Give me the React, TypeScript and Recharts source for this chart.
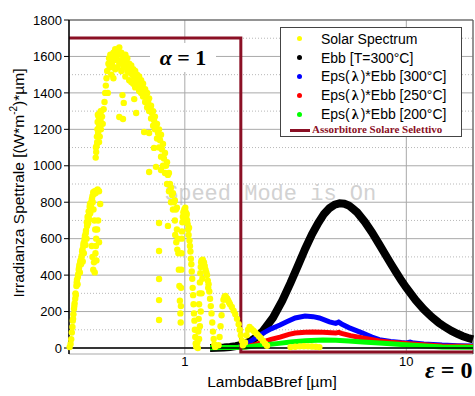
import React from "react";
import {
  ComposedChart, Scatter, Line, XAxis, YAxis, CartesianGrid, ReferenceLine
} from "recharts";

type Pt = [number, number];

// Solar spectrum (lambda in um, irradiance W/m2/um)
const solarUV: Pt[] = [
  [0.302, 5], [0.305, 22], [0.307, 48], [0.309, 85], [0.311, 115], [0.312, 150], [0.314, 185],
  [0.316, 215], [0.318, 245], [0.32, 270], [0.322, 290], [0.324, 340], [0.326, 375], [0.328, 350],
  [0.33, 405], [0.332, 430], [0.334, 455], [0.336, 415], [0.338, 480], [0.34, 460], [0.342, 505],
  [0.344, 530], [0.346, 475], [0.348, 560], [0.35, 520], [0.352, 585], [0.354, 615], [0.356, 565],
  [0.358, 645], [0.36, 600], [0.362, 670], [0.364, 720], [0.366, 685], [0.368, 750], [0.37, 705],
  [0.372, 775], [0.374, 740], [0.376, 795], [0.378, 760], [0.38, 810], [0.383, 835], [0.386, 855],
  [0.389, 845], [0.392, 860], [0.396, 850], [0.4, 865], [0.404, 870], [0.41, 860], [0.415, 790],
  [0.38, 560], [0.383, 500], [0.386, 430], [0.389, 470], [0.392, 415], [0.395, 520], [0.398, 600],
  [0.402, 650], [0.406, 700], [0.41, 580],
  [0.313, 160], [0.317, 230], [0.321, 300], [0.325, 360], [0.329, 390], [0.333, 440], [0.337, 470],
  [0.341, 490], [0.345, 540], [0.349, 575], [0.353, 600], [0.357, 630], [0.361, 690], [0.365, 710],
  [0.369, 730], [0.373, 790], [0.377, 780], [0.381, 820], [0.384, 800], [0.387, 760], [0.391, 700],
  [0.394, 650], [0.397, 560], [0.399, 480],
];

const solarBlue: Pt[] = [
  [0.396, 1045], [0.398, 1075], [0.4, 1110], [0.401, 1160], [0.403, 1200], [0.404, 1240],
  [0.406, 1180], [0.408, 1270], [0.41, 1130], [0.412, 1220], [0.414, 1290], [0.416, 1250],
  [0.418, 1200], [0.42, 1300], [0.423, 1270], [0.426, 1230], [0.43, 1310], [0.434, 1350],
  [0.437, 1400], [0.44, 1440], [0.443, 1480], [0.446, 1520], [0.449, 1400], [0.452, 1560],
  [0.455, 1590], [0.458, 1540], [0.461, 1610], [0.464, 1575],
  [0.397, 1100], [0.402, 1130], [0.405, 1280], [0.409, 1210], [0.413, 1160], [0.417, 1300],
  [0.421, 1230],
];

const solarVisible: Pt[] = [
  [0.466, 1500], [0.466, 1600], [0.471, 1550], [0.476, 1620], [0.476, 1480], [0.48, 1580],
  [0.485, 1640], [0.485, 1530], [0.49, 1600], [0.495, 1630], [0.495, 1540], [0.5, 1580],
  [0.506, 1650], [0.506, 1560], [0.511, 1610], [0.517, 1520], [0.517, 1620], [0.522, 1580],
  [0.528, 1600], [0.528, 1540], [0.533, 1560], [0.539, 1490], [0.539, 1610], [0.544, 1570],
  [0.55, 1520], [0.55, 1590], [0.555, 1545], [0.561, 1470], [0.561, 1560], [0.567, 1510],
  [0.573, 1460], [0.573, 1550], [0.579, 1500], [0.585, 1450], [0.585, 1530], [0.591, 1490],
  [0.597, 1430], [0.597, 1520], [0.603, 1470], [0.609, 1440], [0.609, 1500], [0.616, 1460],
  [0.622, 1410], [0.622, 1490], [0.628, 1450], [0.635, 1400], [0.635, 1470], [0.641, 1430],
  [0.648, 1380], [0.648, 1450], [0.655, 1410], [0.662, 1350], [0.662, 1420], [0.669, 1380],
  [0.676, 1320], [0.676, 1400], [0.683, 1350], [0.69, 1300], [0.69, 1370], [0.697, 1320],
  [0.704, 1260], [0.704, 1330], [0.711, 1290], [0.719, 1220], [0.719, 1300], [0.726, 1250],
  [0.733, 1200], [0.733, 1270], [0.741, 1210], [0.749, 1150], [0.749, 1230], [0.757, 1180],
  [0.765, 1100], [0.765, 1200], [0.773, 1140], [0.781, 1050], [0.781, 1170], [0.789, 1090],
  [0.797, 1000], [0.797, 1120], [0.805, 1040], [0.814, 960], [0.814, 1070], [0.822, 1000],
  [0.831, 900], [0.831, 1020], [0.839, 950], [0.848, 860], [0.848, 960], [0.857, 900],
  [0.866, 800], [0.866, 880], [0.875, 840], [0.884, 760], [0.884, 850], [0.893, 800],
  [0.902, 700], [0.902, 810], [0.911, 760], [0.921, 650], [0.921, 770],
  // scattered absorption-line points
  [0.506, 1268], [0.526, 1257], [0.53, 1345], [0.523, 1388], [0.591, 1366], [0.603, 1290],
  [0.655, 1185], [0.69, 1180], [0.726, 1098], [0.741, 994], [0.69, 966], [0.781, 977],
  [0.765, 686], [0.765, 532], [0.765, 379], [0.765, 263], [0.765, 154], [0.839, 670],
];

const solarNIR: Pt[] = [
  [0.905, 620], [0.915, 580], [0.925, 540], [0.93, 600], [0.935, 520], [0.94, 430], [0.945, 340],
  [0.95, 260], [0.955, 190], [0.958, 140], [0.96, 230], [0.962, 330], [0.964, 430], [0.966, 520],
  [0.968, 600], [0.97, 640], [0.975, 690], [0.98, 720], [0.985, 745], [0.99, 700], [0.995, 760],
  [1.0, 740], [1.005, 770], [1.01, 745], [1.015, 720], [1.02, 735], [1.025, 700], [1.03, 680],
  [1.035, 650], [1.04, 620], [1.045, 660], [1.05, 590], [1.055, 560], [1.06, 530], [1.065, 490],
  [1.07, 460], [1.075, 420], [1.08, 380], [1.085, 330], [1.09, 290], [1.095, 240], [1.1, 190],
  [1.105, 150], [1.11, 100], [1.115, 60], [1.12, 25], [1.125, 8],
  [1.14, 30], [1.15, 90], [1.155, 160], [1.16, 240], [1.165, 300], [1.17, 360], [1.175, 410],
  [1.18, 445], [1.185, 470], [1.19, 480], [1.2, 470], [1.205, 485], [1.21, 475], [1.215, 460],
  [1.22, 470], [1.23, 450], [1.24, 430], [1.25, 415], [1.26, 400], [1.27, 370], [1.275, 330],
  [1.28, 350], [1.29, 310], [1.3, 270], [1.31, 230], [1.32, 190], [1.33, 140], [1.34, 90],
  [1.35, 50], [1.36, 20], [1.37, 6],
  [1.145, 0], [1.16, 50], [1.17, 120], [1.18, 200], [1.19, 300], [1.2, 380],
];

const solarSWIR: Pt[] = [
  [1.42, 15], [1.435, 60], [1.45, 120], [1.465, 180], [1.48, 230], [1.495, 265], [1.51, 280],
  [1.525, 285], [1.54, 275], [1.555, 270], [1.57, 260], [1.585, 250], [1.6, 240], [1.63, 225],
  [1.66, 205], [1.69, 185], [1.72, 160], [1.75, 130], [1.77, 100], [1.79, 70], [1.81, 40],
  [1.83, 15],
  [1.87, 30], [1.9, 70], [1.93, 100], [1.96, 115], [2.0, 105], [2.04, 95], [2.08, 85],
  [2.12, 75], [2.16, 65], [2.2, 55], [2.25, 40], [2.3, 25], [2.35, 12],
  [3.0, 5], [3.15, 7], [3.3, 9], [3.45, 10], [3.6, 9], [3.75, 8], [3.9, 7], [4.05, 5],
];

// Emission curves
const ebb300: Pt[] = [
  [1.3, 0.2], [1.4, 1], [1.5, 2.6], [1.6, 5.5], [1.7, 10], [1.8, 17], [1.9, 28], [2.0, 41],
  [2.1, 59], [2.25, 92], [2.5, 166], [2.75, 258], [3.0, 357], [3.25, 455], [3.5, 546],
  [3.75, 624], [4.0, 686], [4.25, 736], [4.5, 768], [4.75, 787], [5.0, 794], [5.25, 792],
  [5.5, 782], [5.75, 763], [6.0, 744], [6.5, 692], [7.0, 634], [7.5, 574], [8.0, 517],
  [8.5, 464], [9.0, 415], [9.5, 370], [10, 331], [11, 264], [12, 212], [13, 171], [14, 139],
  [15, 114], [16, 94], [17, 78], [18, 65], [19, 55], [20, 47],
];

const epsEbb300: Pt[] = [
  [1.75, 5], [1.85, 15], [1.92, 27], [2.0, 40], [2.1, 58], [2.26, 82], [2.45, 105], [2.69, 126],
  [2.9, 145], [3.15, 165], [3.49, 175], [3.8, 172], [4.05, 165], [4.5, 143], [4.8, 135],
  [4.95, 142], [5.1, 132], [5.5, 112], [6.35, 82], [7.0, 60], [7.55, 46], [8.5, 36], [9.5, 30],
  [10.0, 28], [10.4, 32], [10.8, 27], [12, 22], [14.5, 16], [17, 13], [20, 11],
];

const epsEbb250: Pt[] = [
  [1.8, 3], [1.95, 10], [2.1, 20], [2.26, 33], [2.45, 47], [2.69, 60], [2.95, 75], [3.15, 82],
  [3.5, 87], [3.8, 88], [4.2, 86], [4.8, 82], [4.95, 86], [5.1, 80], [5.6, 68], [6.35, 55],
  [7.55, 38], [8.5, 31], [10.3, 24], [12, 18], [14.5, 11], [17, 9], [20, 8],
];

const epsEbb200: Pt[] = [
  [1.3, 2], [1.5, 3], [1.7, 3], [1.9, 5], [2.26, 16], [2.6, 24], [3.0, 33], [3.5, 40],
  [4.2, 44], [4.8, 42], [5.5, 38], [6.35, 33], [7.55, 27], [10.3, 16], [14.5, 6], [20, 4],
];

// Selective absorber: alpha = 1 below cut-off, eps = 0 above
const absorber: Pt[] = [[0.3, 1], [1.79, 1], [1.79, 0], [20, 0]];

const yTicks = [0, 200, 400, 600, 800, 1000, 1200, 1400, 1600, 1800];
const yMinor = [100, 300, 500, 700, 900, 1100, 1300, 1500, 1700];
const xTicks = [1, 10];

const toRows = (pts: Pt[]) => pts.map(([x, y]) => ({ x, y }));
const solarSpectrum = toRows([...solarUV, ...solarBlue, ...solarVisible, ...solarNIR, ...solarSWIR]);

const MAROON = "#8b1025";
const SANS = "'Liberation Sans', Arial, sans-serif";
const SERIF = "'Liberation Serif', 'Times New Roman', serif";

const dot = (props: any) => <circle cx={props.cx} cy={props.cy} r={3.2} fill="#ffff00" />;

const legendRows = [
  { name: "Solar Spectrum", color: "#ffff00" },
  { name: "Ebb [T=300°C]", color: "#000000" },
  { name: "300°C", color: "#0000ff", eps: true },
  { name: "250°C", color: "#ff0000", eps: true },
  { name: "200°C", color: "#00ff00", eps: true },
];

function LegendBox() {
  return (
    <div style={{
      position: "absolute", left: 280, top: 27, width: 180, height: 108,
      border: "1px solid #444", background: "#fff", zIndex: 3, fontFamily: SANS,
    }}>
      {legendRows.map((r, i) => (
        <div key={r.name} style={{
          position: "absolute", left: 0, top: 1 + i * 19, height: 19, width: 180,
          display: "flex", alignItems: "center", fontSize: 14, color: "#000",
        }}>
          <span style={{
            position: "absolute", left: 16, width: 5, height: 5, borderRadius: "50%",
            background: r.color,
          }} />
          <span style={{ position: "absolute", left: 40, whiteSpace: "nowrap" }}>
            {r.eps ? (
              <>Eps(<b style={{ fontFamily: SERIF, margin: "0 2px" }}>λ</b>)*Ebb [{r.name}]</>
            ) : r.name}
          </span>
        </div>
      ))}
      <div style={{ position: "absolute", left: 9, top: 101, width: 20, height: 3, background: MAROON }} />
      <div style={{
        position: "absolute", left: 31, top: 95, fontFamily: SERIF, fontWeight: "bold",
        fontSize: 11, color: MAROON, whiteSpace: "nowrap",
      }}>Assorbitore Solare Selettivo</div>
    </div>
  );
}

export default function App() {
  return (
    <div style={{ position: "absolute", left: 0, top: 0, width: 475, height: 396, background: "#fff", overflow: "hidden" }}>
      <div style={{
        position: "absolute", left: 165, top: 184, fontFamily: "'Liberation Mono', 'DejaVu Sans Mono', monospace",
        fontSize: 22, lineHeight: "22px", color: "#d2d2d2", whiteSpace: "nowrap", zIndex: 0,
      }}>Speed Mode is On</div>
      <div style={{ position: "absolute", left: 0, top: 0, zIndex: 1 }}>
        <ComposedChart width={475} height={396} margin={{ top: 20, right: 2, left: 0, bottom: 0 }}>
          <CartesianGrid stroke="#a9a9a9" />
          <XAxis
            type="number" dataKey="x" scale="log" domain={[0.3, 20]} ticks={xTicks}
            height={42} axisLine={false} tickLine={false} tickSize={0} tickMargin={3}
            tick={{ fill: "#000", fontSize: 13, fontFamily: SANS }}
          />
          <YAxis
            type="number" dataKey="y" domain={[-32.9, 1800]} ticks={yTicks} width={69}
            axisLine={{ stroke: "#000", strokeWidth: 1.5 }} tickLine={{ stroke: "#000" }}
            tickSize={5} tickMargin={2} tick={{ fill: "#000", fontSize: 13, fontFamily: SANS }}
          />
          <YAxis yAxisId="abs" type="number" hide domain={[-0.0064, 1.0573]} />
          {yMinor.map((v) => (
            <ReferenceLine key={v} y={v} stroke="#b8b8b8" strokeDasharray="1 2" />
          ))}
          <ReferenceLine y={1800} stroke="#555" />
          <ReferenceLine x={20} stroke="#555" />
          <Line data={toRows(ebb300)} dataKey="y" stroke="#000" strokeWidth={8} dot={false} isAnimationActive={false} />
          <Line data={toRows(epsEbb300)} dataKey="y" stroke="#0000ff" strokeWidth={5} dot={false} isAnimationActive={false} />
          <Line data={toRows(epsEbb250)} dataKey="y" stroke="#ff0000" strokeWidth={5} dot={false} isAnimationActive={false} />
          <Line data={toRows(epsEbb200)} dataKey="y" stroke="#00ff00" strokeWidth={5} dot={false} isAnimationActive={false} />
          <Scatter data={solarSpectrum} dataKey="y" shape={dot} isAnimationActive={false} />
          <ReferenceLine y={0} stroke="#000" strokeWidth={1.5} />
          <Line yAxisId="abs" data={toRows(absorber)} dataKey="y" stroke={MAROON} strokeWidth={3} dot={false} isAnimationActive={false} />
        </ComposedChart>
      </div>
      <div style={{
        position: "absolute", left: 150, top: 43, width: 66, height: 29, background: "#fff", zIndex: 2,
        fontFamily: SERIF, fontWeight: "bold", fontSize: 22, lineHeight: "29px", textAlign: "center",
      }}><i>α</i> = 1</div>
      <div style={{
        position: "absolute", left: 425, top: 355, zIndex: 2, whiteSpace: "nowrap",
        fontFamily: SERIF, fontWeight: "bold", fontSize: 24, lineHeight: "30px",
      }}><i>ε</i> = 0</div>
      <LegendBox />
      <div style={{
        position: "absolute", left: 272, top: 373, transform: "translateX(-50%)", whiteSpace: "nowrap",
        fontFamily: SANS, fontSize: 15.5, zIndex: 2,
      }}>LambdaBBref [µm]</div>
      <div style={{
        position: "absolute", left: 18, top: 183, transform: "translate(-50%, -50%) rotate(-90deg)",
        whiteSpace: "nowrap", fontFamily: SANS, fontSize: 15.5, zIndex: 2,
      }}>Irradianza Spettrale [(W*m<sup style={{ fontSize: 10 }}>-2</sup>)*µm]</div>
    </div>
  );
}
